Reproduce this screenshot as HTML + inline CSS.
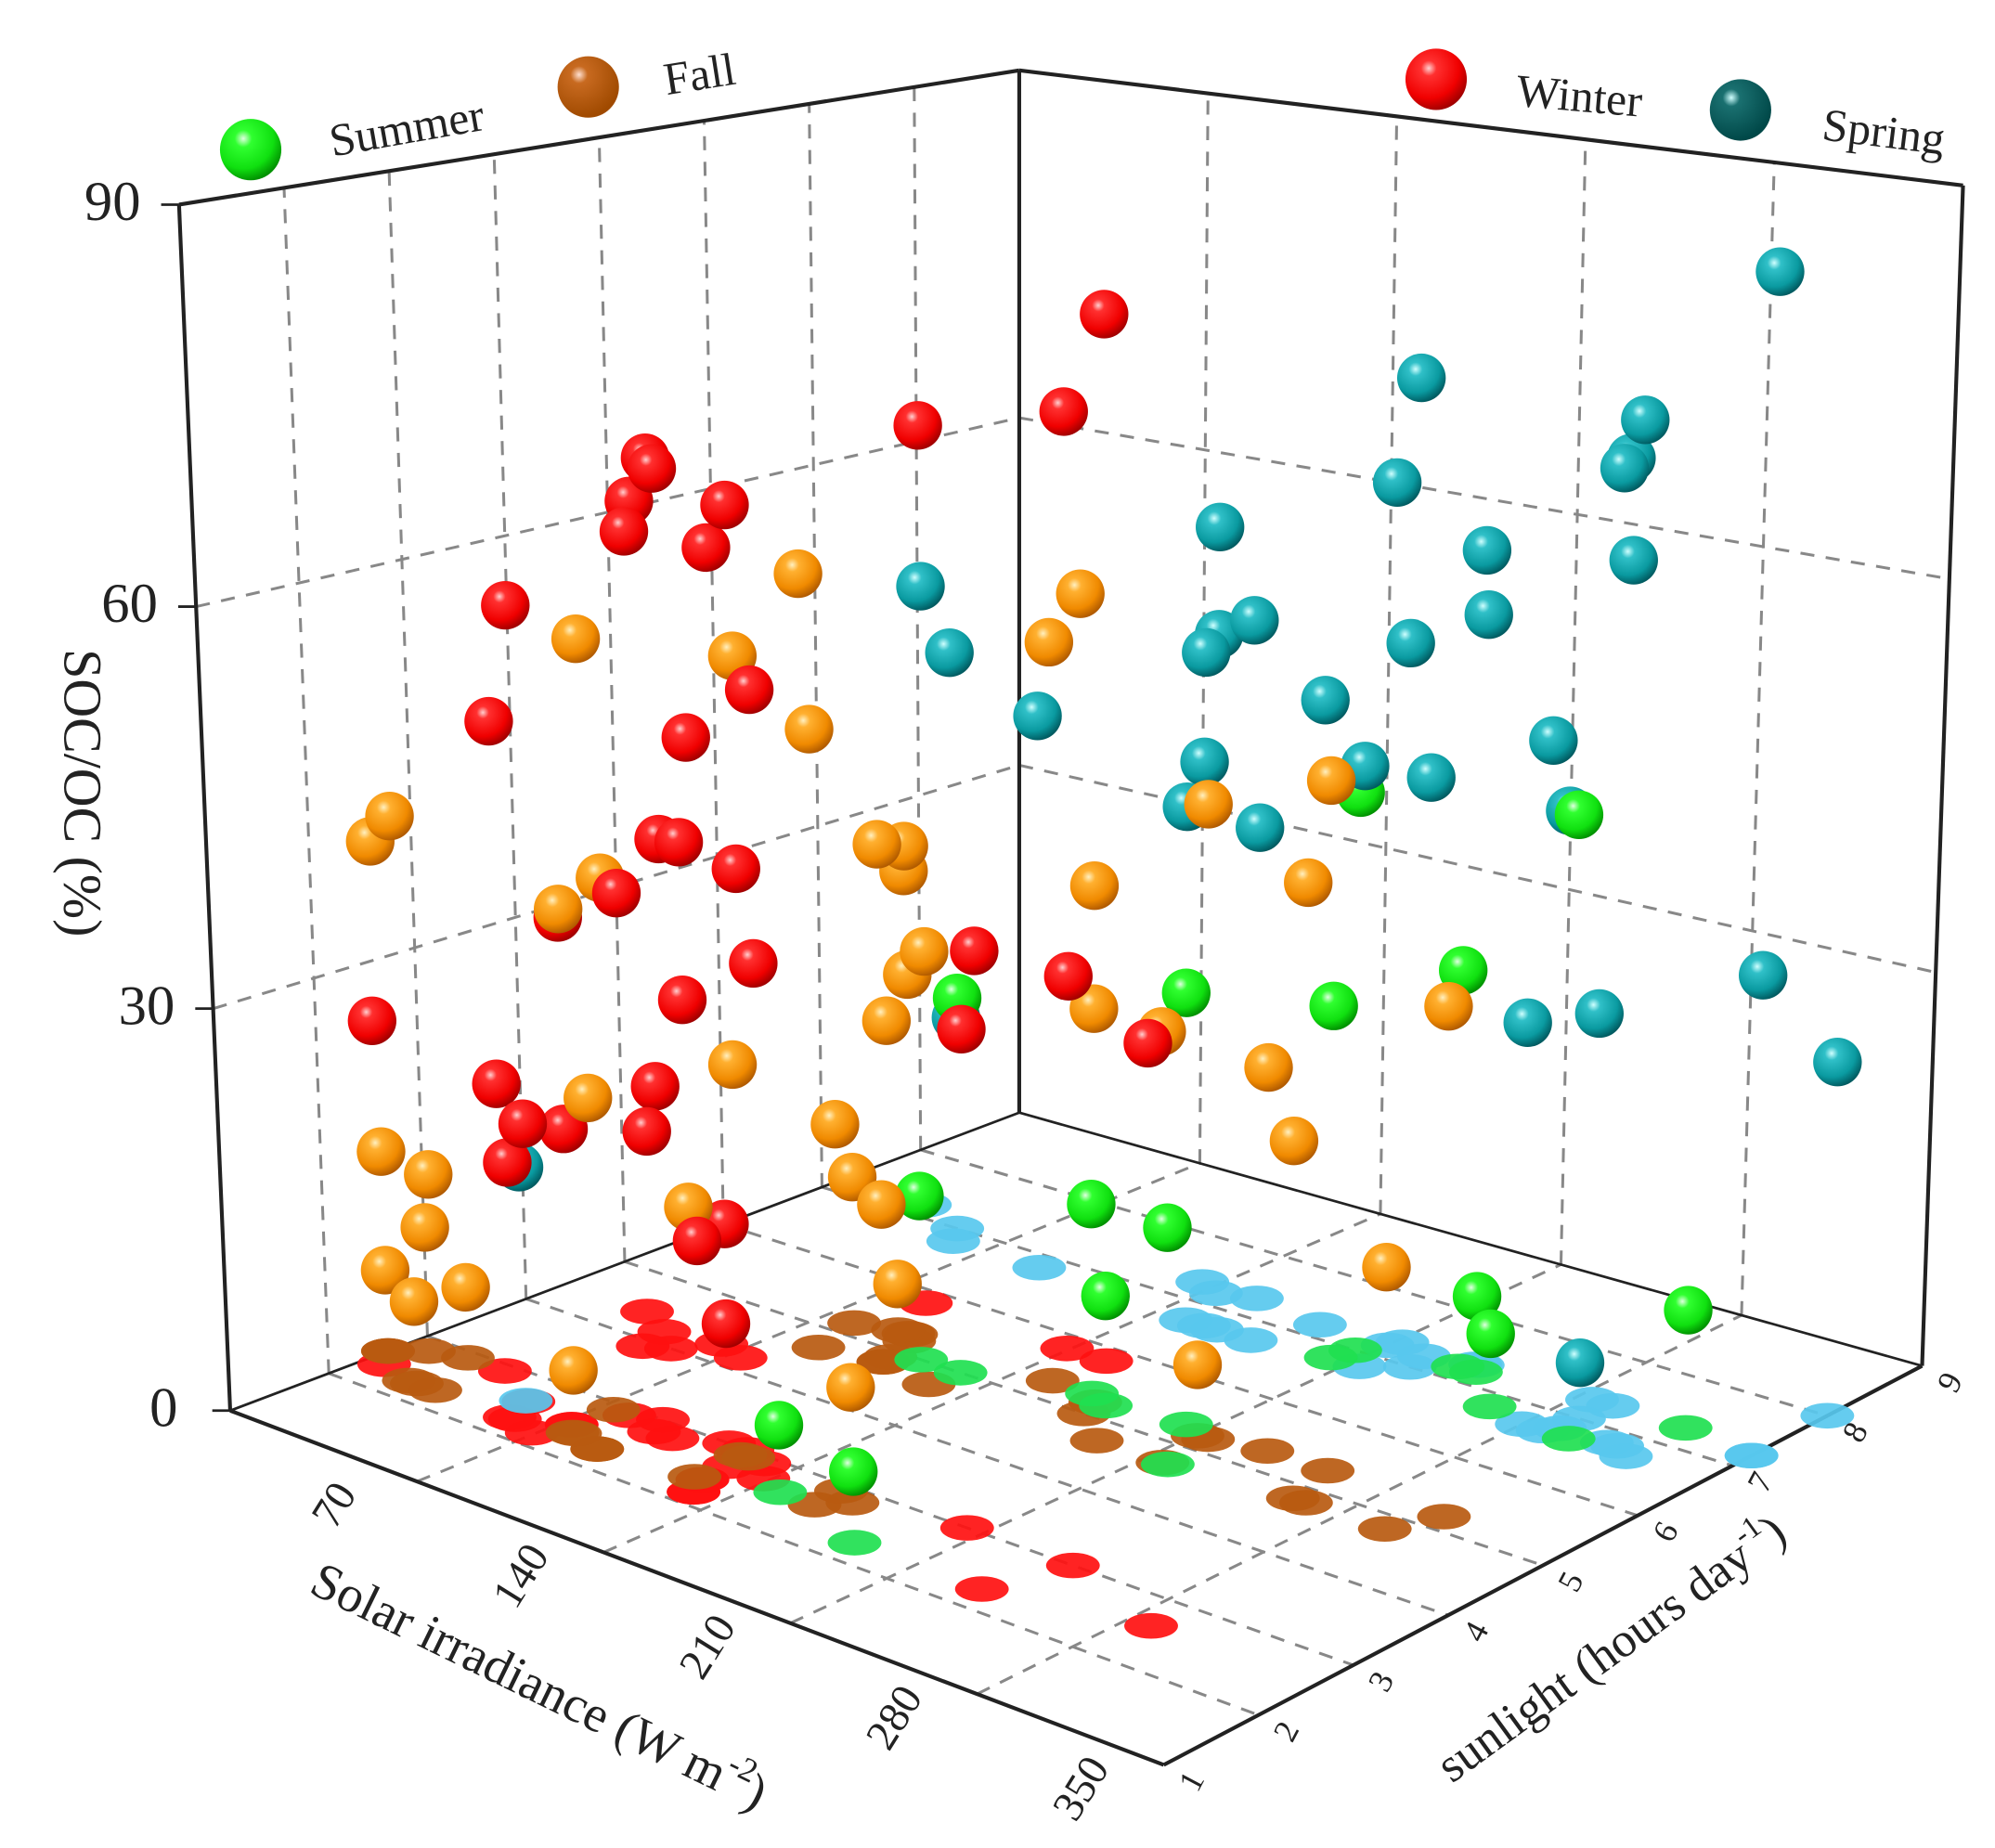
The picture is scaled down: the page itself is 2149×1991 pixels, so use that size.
<!DOCTYPE html>
<html><head><meta charset="utf-8"><style>
html,body{margin:0;padding:0;background:#fff}
svg{display:block}
text{font-family:"Liberation Serif",serif;fill:#222}
</style></head><body>
<svg id="chart" xmlns="http://www.w3.org/2000/svg" width="2149" height="1991" viewBox="0 0 1560 1445" preserveAspectRatio="none">
<defs>
<radialGradient id="gWinter" cx="0.38" cy="0.32" r="0.7"><stop offset="0" stop-color="#ffd0d0"/><stop offset="0.18" stop-color="#ff3030"/><stop offset="0.7" stop-color="#f00000"/><stop offset="1" stop-color="#a00000"/></radialGradient>
<radialGradient id="gFall" cx="0.38" cy="0.32" r="0.7"><stop offset="0" stop-color="#fff0c0"/><stop offset="0.2" stop-color="#ffb030"/><stop offset="0.7" stop-color="#f08a00"/><stop offset="1" stop-color="#b05a00"/></radialGradient>
<radialGradient id="gSpring" cx="0.38" cy="0.32" r="0.7"><stop offset="0" stop-color="#d0ffff"/><stop offset="0.2" stop-color="#30c0c8"/><stop offset="0.7" stop-color="#0a9aa0"/><stop offset="1" stop-color="#005a60"/></radialGradient>
<radialGradient id="gSummer" cx="0.38" cy="0.32" r="0.7"><stop offset="0" stop-color="#e0ffe0"/><stop offset="0.2" stop-color="#30ff30"/><stop offset="0.7" stop-color="#10e010"/><stop offset="1" stop-color="#009000"/></radialGradient>
<radialGradient id="gLegFall" cx="0.35" cy="0.3" r="0.7"><stop offset="0" stop-color="#ffe0d0"/><stop offset="0.2" stop-color="#c86a20"/><stop offset="1" stop-color="#a04a00"/></radialGradient>
<radialGradient id="gLegSpring" cx="0.35" cy="0.3" r="0.7"><stop offset="0" stop-color="#d0ffff"/><stop offset="0.2" stop-color="#1a7070"/><stop offset="1" stop-color="#004848"/></radialGradient>
</defs>
<g id="grid"></g>
<g id="frame"></g>
<g id="shadows"></g>
<g id="balls"></g>
<g id="labels"></g>
<g>
  <circle cx="196" cy="117" r="24" fill="url(#gSummer)"/>
  <text x="318" y="112" font-size="36" text-anchor="middle" transform="rotate(-10 318 100)">Summer</text>
  <circle cx="460" cy="68" r="24" fill="url(#gLegFall)"/>
  <text x="547" y="70" font-size="36" text-anchor="middle" transform="rotate(-9 547 58)">Fall</text>
  <circle cx="1123" cy="62" r="24" fill="url(#gWinter)"/>
  <text x="1235" y="87" font-size="36" text-anchor="middle" transform="rotate(5 1235 75)">Winter</text>
  <circle cx="1361" cy="86" r="24" fill="url(#gLegSpring)"/>
  <text x="1473" y="115" font-size="36" text-anchor="middle" transform="rotate(7 1473 103)">Spring</text>
</g>
</svg>
<script>
// data: solar irradiance (W m-2), sunlight (hours/day), SOC/OC (%)
const winterX=[154,85,139,45,55,31,74,48,63,53,57,131,126,100,130,121,73,80,235,244,138,130,204,288,6,33,69,89,73,93,59,114,126,125];
const winterY=[5.8,5.8,5.8,4.2,4.0,4.4,4.2,3.9,4.3,2.6,2.3,2.9,2.4,2.8,2.2,3.0,2.5,2.9,2.3,3.0,2.7,2.2,3.0,2.6,2.4,2.9,2.2,3.0,2.5,2.8,2.3,3.0,2.4,2.7];
const winterZ=[80.6,69.2,72.5,67.9,67.9,63.5,65.6,62.9,61.6,60,52.1,57.1,54.4,44.6,47.4,43.1,37.9,39.2,45.1,42,37.8,35.9,36,40.7,26.2,21.9,23,25,22.1,22.4,19.2,16.3,17.5,10.5];
const fallX=[161,90,125,175,152,85,0,19,74,77,97,106,101,191,257,267,215,127,98,105,172,216,234,262,305,90,122,0,29,160,80,106,123,8,0,22,19,93,297,78,168,211];
const fallY=[2.6,2.3,2.9,5,5.3,4.7,2.6,2.3,2.9,2.4,5.3,4.8,5.2,4.7,5.3,4.8,5.2,4.7,5.3,4.9,5.2,4.7,5.3,4.8,5.2,2.3,2.9,2.6,2.3,2.9,5.2,4.8,2.4,2.8,2.6,2.3,2.9,5.3,4.8,2.4,2.8,5.2];
const fallZ=[67.7,60,59.3,61.8,56.4,47.8,39.1,42.8,40,39,36,39.8,38.4,41.4,50.9,45.2,47.4,33,28,25.9,29.8,31.9,28.5,26.1,37,26,28.9,15.3,16.3,26.8,11.4,12.1,19.8,9.5,6.2,6.2,5.4,3.6,18.9,4.7,8.4,5.3];
const springX=[350,226,320,293,309,210,163,240,313,32,176,241,58,144,158,212,91,184,288,135,214,224,151,156,291,350,280,285,350,52,52,291];
const springY=[7.2,7,6.7,7.3,6.8,7.2,6.7,7.3,6.8,7.2,6.7,7.3,6.8,7.2,6.7,7.3,6.8,7.2,6.7,7.3,6.8,7.2,6.7,7.3,6.8,7.2,6.7,7.3,8,2.6,7,7];
const springZ=[87.5,75.9,76.7,71.5,72.5,66.8,62.6,62.5,65.8,51,55.9,57.6,47.7,52.2,52.6,54.2,44.2,48.8,51.6,41.4,46.1,44.6,40.2,37.2,46.2,35.5,30.1,29.2,26.5,17.6,17.2,4.2];
const summerX=[148,187,113,167,218,176,244,264,321,128,203,203,237,205,298];
const summerY=[2.6,2.3,5,5.3,4.7,5.2,7.2,6.8,7.3,5,5.3,6.8,7.2,7,6.7];
const summerZ=[4.9,5.1,12.6,14.4,17.5,8.3,5.8,5.5,8.8,28.7,32.4,27.1,30.4,43.1,46.5];
const xTicks=[70,140,210,280,350];
const yTicks=[1,2,3,4,5,6,7,8,9];
const zTicks=[0,30,60,90];

const NS="http://www.w3.org/2000/svg";
const cL=[180,1103],cF=[910,1380],cR=[1503,1068],cB=[797,870];
const dL=[-40,-943],dF=[-8,-1053],dR=[32,-923],dB=[0,-815];
function bil(a,b,c,d,u,v,i){return (1-u)*(1-v)*a[i]+u*(1-v)*b[i]+u*v*c[i]+(1-u)*v*d[i];}
function P(x,y,z){
  const u=x/350,v=(y-1)/8,t=z/90;
  return [bil(cL,cF,cR,cB,u,v,0)+t*bil(dL,dF,dR,dB,u,v,0), bil(cL,cF,cR,cB,u,v,1)+t*bil(dL,dF,dR,dB,u,v,1)];
}
function mk(tag,attrs,parent){const e=document.createElementNS(NS,tag);for(const k in attrs)e.setAttribute(k,attrs[k]);parent.appendChild(e);return e;}
function line(a,b,parent,dash,w,col){return mk('line',{x1:a[0],y1:a[1],x2:b[0],y2:b[1],stroke:col||'#888','stroke-width':w||2.2,'stroke-dasharray':dash||'none'},parent);}
const grid=document.getElementById('grid'),frame=document.getElementById('frame');
const D='11 9';
xTicks.slice(0,4).forEach(x=>{const l=line(P(x,1,0),P(x,9,0),grid,D);});
yTicks.slice(1,8).forEach(y=>{const l=line(P(0,y,0),P(350,y,0),grid,D);});
yTicks.slice(1,8).forEach(y=>{const l=line(P(0,y,0),P(0,y,90),grid,D);});
zTicks.slice(1,3).forEach(z=>{const l=line(P(0,1,z),P(0,9,z),grid,D);});
xTicks.slice(0,4).forEach(x=>{const l=line(P(x,9,0),P(x,9,90),grid,D);});
zTicks.slice(1,3).forEach(z=>{const l=line(P(0,9,z),P(350,9,z),grid,D);});
[[P(0,1,0),P(350,1,0)],[P(350,1,0),P(350,9,0)],[P(0,1,0),P(0,1,90)],[P(0,9,0),P(0,9,90)],[P(350,9,0),P(350,9,90)],
 [P(0,1,90),P(0,9,90)],[P(0,9,90),P(350,9,90)],[P(0,1,0),P(0,9,0)],[P(0,9,0),P(350,9,0)]].forEach((s,i)=>{
  const l=line(s[0],s[1],frame,'none',i<7?3:2,'#222');
  
  
});
const labels=document.getElementById('labels');
function txt(s,x,y,size,rot,anchor,name){
  const t=mk('text',{x:x,y:y,'font-size':size,'text-anchor':anchor||'middle','dominant-baseline':'middle'},labels);
  if(rot)t.setAttribute('transform','rotate('+rot+' '+x+' '+y+')');
  t.textContent=s;
  
  
  return t;
}
zTicks.forEach(z=>{const p=P(0,1,z);
  const l=line([p[0]-14,p[1]],[p[0],p[1]],frame,'none',2,'#222');
  txt(String(z),p[0]-52,p[1]+2,44,0,'middle','z-tick-label');});
xTicks.forEach(x=>{const p=P(x,1,0);
  txt(String(x),p[0]-62,p[1]+20,34,-58,'middle','x-tick-label');});
yTicks.forEach(y=>{const p=P(350,y,0);
  txt(String(y),p[0]+24,p[1]+14,26,-62,'middle','y-tick-label');});
txt('SOC/OC (%)',60,620,42,90,'middle','z-axis-title');
const t1=txt('Solar irradiance (W m',420,1322,40,26,'middle','x-axis-title');
const sup1=mk('tspan',{'font-size':26,dy:-14},t1);sup1.textContent='-2';
const cl1=mk('tspan',{dy:14},t1);cl1.textContent=')';
const t2=txt('sunlight (hours day',1262,1292,38,-36,'middle','y-axis-title');
const sup2=mk('tspan',{'font-size':24,dy:-14},t2);sup2.textContent='-1';
const cl2=mk('tspan',{dy:14},t2);cl2.textContent=')';

const seasons=[
 {name:'winter',X:winterX,Y:winterY,Z:winterZ,grad:'url(#gWinter)',sh:'#ff1010'},
 {name:'fall',X:fallX,Y:fallY,Z:fallZ,grad:'url(#gFall)',sh:'#b85a10'},
 {name:'spring',X:springX,Y:springY,Z:springZ,grad:'url(#gSpring)',sh:'#58c8ee'},
 {name:'summer',X:summerX,Y:summerY,Z:summerZ,grad:'url(#gSummer)',sh:'#20e050'}];
const pts=[];
seasons.forEach(s=>{for(let i=0;i<s.X.length;i++){pts.push({s:s,x:s.X[i],y:s.Y[i],z:s.Z[i]});}});
const shG=document.getElementById('shadows'),bG=document.getElementById('balls');
pts.forEach(p=>{const b=P(p.x,p.y,0);
  const e=mk('ellipse',{cx:b[0],cy:b[1],rx:21,ry:10,fill:p.s.sh,opacity:0.92},shG);
  
  
});
pts.sort((a,b)=>P(a.x,a.y,0)[1]-P(b.x,b.y,0)[1]);
pts.forEach(p=>{const c=P(p.x,p.y,p.z);
  const e=mk('circle',{cx:c[0],cy:c[1],r:19,fill:p.s.grad},bG);
  
  
});
</script>
</body></html>
